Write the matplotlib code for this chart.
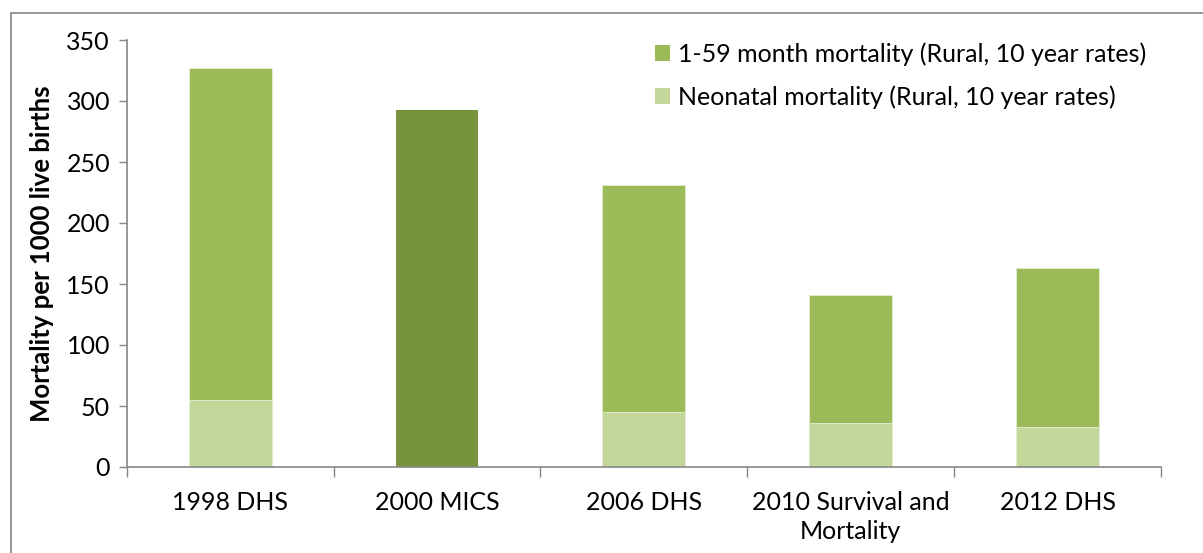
import matplotlib
matplotlib.use("Agg")
import matplotlib.pyplot as plt
from matplotlib.patches import Rectangle, Patch

plt.rcParams['font.family'] = ['Lato', 'DejaVu Sans']

# Survey labels and under-five mortality components (per 1000 live births)
categories = ["1998 DHS", "2000 MICS", "2006 DHS", "2010 Survival and\nMortality", "2012 DHS"]
neonatal = [55, None, 45, 36, 33]
month_1_59 = [272, None, 186, 105, 130]
mics_total = [None, 293, None, None, None]
y_ticks = [0, 50, 100, 150, 200, 250, 300, 350]

label_1_59 = "1-59 month mortality (Rural, 10 year rates)"
label_neo = "Neonatal mortality (Rural, 10 year rates)"

c_neo = "#C4D79B"
c_159 = "#9BBB59"
c_mics = "#77933C"
grey = "#868686"

FS = 18

W, H = 1203, 553
fig = plt.figure(figsize=(W / 100, H / 100), dpi=100)
ax = fig.add_axes([126.7 / W, (H - 467) / H, (1161 - 126.7) / W, (467 - 40) / H])

bw = 0.4
for i in range(len(categories)):
    if neonatal[i] is not None:
        ax.bar(i, neonatal[i], width=bw, color=c_neo, edgecolor="#E4EDD0", linewidth=0.6, zorder=2)
        ax.bar(i, month_1_59[i], width=bw, bottom=neonatal[i], color=c_159,
               edgecolor="#E4EDD0", linewidth=0.6, zorder=2)
    if mics_total[i] is not None:
        ax.bar(i, mics_total[i], width=bw, color=c_mics, linewidth=0, zorder=2)

ax.set_xlim(-0.5, len(categories) - 0.5)
ax.set_ylim(0, 350)
ax.set_yticks(y_ticks)
ax.tick_params(axis='y', labelsize=FS, length=6, width=1, color=grey, pad=6)

# category boundaries carry the tick marks, centres carry the labels
ax.set_xticks([i - 0.5 for i in range(len(categories) + 1)])
ax.set_xticklabels([])
ax.set_xticks(range(len(categories)), minor=True)
ax.set_xticklabels(categories, minor=True, fontsize=FS, linespacing=1.35)
ax.tick_params(axis='x', which='major', length=7, width=1, color=grey)
ax.tick_params(axis='x', which='minor', length=0, pad=17)

for s in ['top', 'right']:
    ax.spines[s].set_visible(False)
for s in ['left', 'bottom']:
    ax.spines[s].set_color(grey)
    ax.spines[s].set_linewidth(1.2)

ax.set_ylabel("Mortality per 1000 live births", fontsize=18.5, fontweight='bold', labelpad=9)

handles = [Patch(facecolor=c_159, edgecolor='none', label=label_1_59),
           Patch(facecolor=c_neo, edgecolor='none', label=label_neo)]
fig.legend(handles=handles, loc='upper left', bbox_to_anchor=(655 / W, 1 - 42 / H),
           frameon=False, fontsize=FS, handlelength=0.6, handleheight=0.6,
           handletextpad=0.3, labelspacing=0.8, borderaxespad=0, borderpad=0)

# outer chart frame
fig.add_artist(Rectangle((11 / W, -0.2), 1.5, 0.2 + (H - 13) / H,
                         transform=fig.transFigure, fill=False, edgecolor="#8C8C8C",
                         linewidth=1.3, clip_on=False))

fig.savefig("out.png", dpi=100)
